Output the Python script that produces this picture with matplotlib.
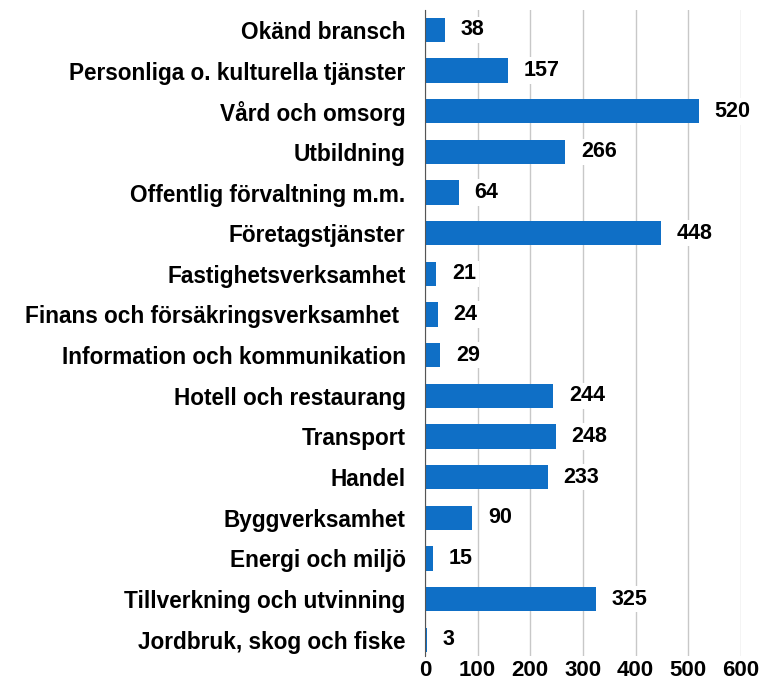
import matplotlib.pyplot as plt

plt.rcParams['font.family'] = ['Liberation Sans', 'DejaVu Sans']

categories = ['Okänd bransch', 'Personliga o. kulturella tjänster', 'Vård och omsorg',
              'Utbildning', 'Offentlig förvaltning m.m.', 'Företagstjänster',
              'Fastighetsverksamhet', 'Finans och försäkringsverksamhet ',
              'Information och kommunikation', 'Hotell och restaurang', 'Transport',
              'Handel', 'Byggverksamhet', 'Energi och miljö',
              'Tillverkning och utvinning', 'Jordbruk, skog och fiske']
values = [38, 157, 520, 266, 64, 448, 21, 24, 29, 244, 248, 233, 90, 15, 325, 3]
xticks = [0, 100, 200, 300, 400, 500, 600]

fig = plt.figure(figsize=(7.7, 6.83), dpi=100)
ax = fig.add_axes([0.552, 0.0395, 0.41, 0.9465])

ypos = list(range(len(categories)))[::-1]
ax.barh(ypos, values, height=0.6, color='#0f6fc6', zorder=2)

for y, v in zip(ypos, values):
    ax.text(v + 30, y, str(v), va='center', ha='left', fontsize=15.5, fontweight='bold',
            zorder=3, bbox=dict(facecolor='white', edgecolor='none', pad=2))

ax.set_xlim(0, 600)
ax.set_ylim(-0.4, 15.5)
ax.set_xticks(xticks)
ax.set_yticks(ypos)
ax.set_yticklabels(categories)
ax.tick_params(axis='y', length=0, labelsize=16.3, pad=14)
ax.tick_params(axis='x', length=0, labelsize=16, pad=3)
for lab in ax.get_xticklabels() + ax.get_yticklabels():
    lab.set_fontweight('bold')

ax.grid(axis='x', color='#c8c8c8', linewidth=1, zorder=0)
for s in ['top', 'right', 'bottom']:
    ax.spines[s].set_visible(False)
ax.spines['left'].set_color('#555555')
ax.spines['left'].set_zorder(4)

fig.savefig('out.png', dpi=100)
